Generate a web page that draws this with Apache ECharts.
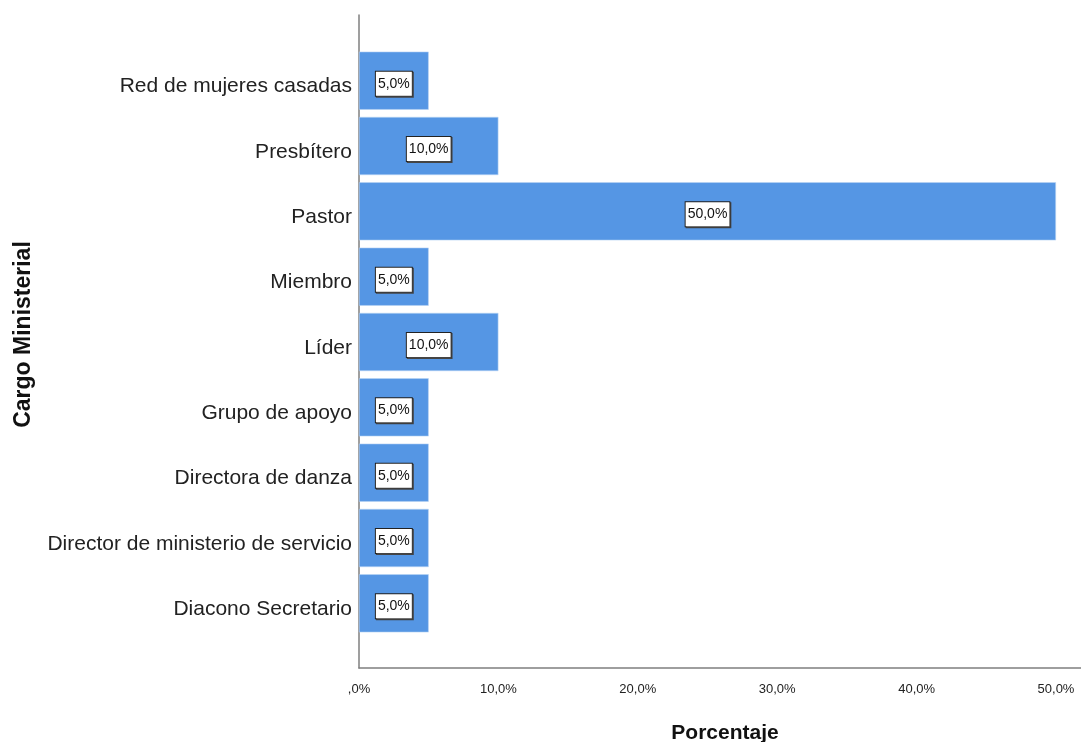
<!DOCTYPE html>
<html>
<head>
<meta charset="utf-8">
<script src="https://cdn.jsdelivr.net/npm/echarts@6/dist/echarts.min.js"></script>
<style>html,body{margin:0;padding:0;background:#fff}#c{width:1081px;height:742px}</style>
</head>
<body>
<div id="c"></div>
<script>
var categories = ['Red de mujeres casadas','Presbítero','Pastor','Miembro','Líder','Grupo de apoyo','Directora de danza','Director de ministerio de servicio','Diacono Secretario'];
var percentages = [5.0, 10.0, 50.0, 5.0, 10.0, 5.0, 5.0, 5.0, 5.0];
var xTicks = [0, 10, 20, 30, 40, 50];
var xTitle = 'Porcentaje';
var yTitle = 'Cargo Ministerial';

function fmt(v){ return (v === 0 ? '' : v.toFixed(1).split('.')[0]) + ',' + v.toFixed(1).split('.')[1] + '%'; }

var XMAX = 50 * 722 / 697;
var chart = echarts.init(document.getElementById('c'));
chart.setOption({
  animation: false,
  backgroundColor: '#fff',
  grid: [
    {left: 359, right: 0, top: 15, bottom: 74, containLabel: false, outerBoundsMode: 'none'},
    {left: 359, right: 0, top: 48, bottom: 106, containLabel: false, outerBoundsMode: 'none'}
  ],
  xAxis: [
    {gridIndex: 0, type: 'value', min: 0, max: XMAX, interval: 10,
     axisLine: {show: true, lineStyle: {color: '#7f7f7f', width: 1.5}},
     axisTick: {show: false}, splitLine: {show: false},
     axisLabel: {margin: 15, fontFamily: 'Liberation Sans', fontSize: 13, color: '#222',
       showMaxLabel: true,
       formatter: function(v){ return xTicks.indexOf(Math.round(v*1000)/1000) >= 0 ? fmt(v) : ''; }},
     name: xTitle, nameLocation: 'middle', nameGap: 55,
     nameTextStyle: {fontFamily: 'Liberation Sans', fontWeight: 'bold', fontSize: 21, color: '#111', padding: [0,0,0,10]}},
    {gridIndex: 1, type: 'value', min: 0, max: XMAX, show: false}
  ],
  yAxis: [
    {gridIndex: 0, type: 'value', min: 0, max: 1,
     axisLine: {show: true, lineStyle: {color: '#7f7f7f', width: 1.5}},
     axisTick: {show: false}, splitLine: {show: false}, axisLabel: {show: false},
     name: yTitle, nameLocation: 'middle', nameGap: 324, nameRotate: 90,
     nameTextStyle: {fontFamily: 'Liberation Sans', fontWeight: 'bold', fontSize: 23, color: '#111', padding: [0,0,0,14]}},
    {gridIndex: 1, type: 'category', data: categories, inverse: true,
     axisLine: {show: false}, axisTick: {show: false},
     axisLabel: {margin: 7, fontFamily: 'Liberation Sans', fontSize: 21, color: '#222', verticalAlign: 'top', lineHeight: 12}}
  ],
  series: [{
    type: 'bar', xAxisIndex: 1, yAxisIndex: 1,
    data: percentages,
    barCategoryGap: '11%',
    itemStyle: {color: '#5596e4', borderColor: '#b9d3f3', borderWidth: 0.6},
    label: {show: true, position: 'inside', offset: [0, 3],
      formatter: function(p){ return fmt(p.value); },
      fontFamily: 'Liberation Sans', fontSize: 14, color: '#111',
      backgroundColor: '#fff', borderColor: '#222', borderWidth: 1,
      padding: [6, 2, 4, 2],
      shadowColor: '#444', shadowOffsetX: 1, shadowOffsetY: 1, shadowBlur: 0}
  }]
});
</script>
</body>
</html>
